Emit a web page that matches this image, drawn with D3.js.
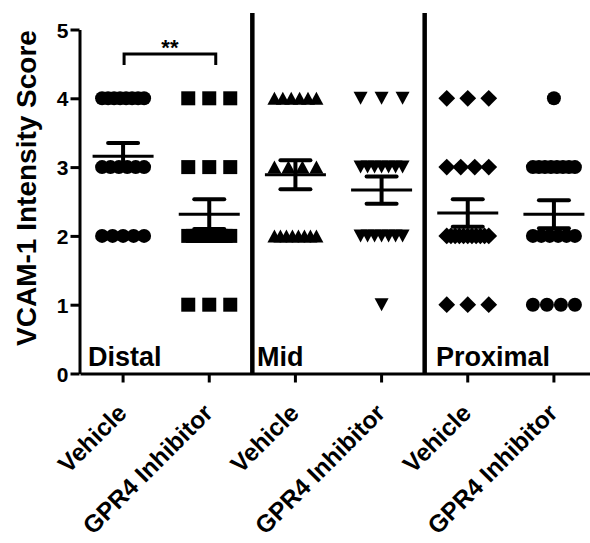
<!DOCTYPE html>
<html><head><meta charset="utf-8">
<script src="https://cdn.jsdelivr.net/npm/d3@7"></script>
<style>
body{margin:0;background:#fff}
text{font-family:"Liberation Sans",Arial,sans-serif;font-weight:bold;fill:#000}
</style>
</head><body><svg id="c" width="590" height="543"></svg>
<script>
// ---------- data ----------
const groups = ["Distal", "Mid", "Proximal"];
const treatments = ["Vehicle", "GPR4 Inhibitor"];
const yTicks = [0, 1, 2, 3, 4, 5];
const yTitle = "VCAM-1 Intensity Score";
const sigLabel = "**";

// individual scores per series
const distalVehicle = [4,4,4,4,4,4,4,4, 3,3,3,3,3,3, 2,2,2,2,2];
const distalGPR4    = [4,4,4, 3,3,3, 2,2,2,2,2,2,2,2,2,2, 1,1,1];
const midVehicle    = [4,4,4,4,4,4, 3,3,3,3, 2,2,2,2,2,2,2,2];
const midGPR4       = [4,4,4, 3,3,3,3,3,3,3, 2,2,2,2,2,2,2, 1];
const proxVehicle   = [4,4,4, 3,3,3,3, 2,2,2,2,2,2,2,2,2,2,2, 1,1,1];
const proxGPR4      = [4, 3,3,3,3,3,3,3,3, 2,2,2,2,2,2, 1,1,1,1];

const seriesValues = [distalVehicle, distalGPR4, midVehicle, midGPR4, proxVehicle, proxGPR4];
const seriesSymbols = ["circle", "square", "triUp", "triDown", "diamond", "circle"];

// ---------- build ----------
const series = [];
groups.forEach((g, gi) => treatments.forEach((t, ti) => {
  const i = gi * 2 + ti;
  series.push({key: g + "|" + t, group: g, treatment: t, values: seriesValues[i], symbol: seriesSymbols[i]});
}));

const svg = d3.select("#c");
const x = d3.scaleBand().domain(series.map(d => d.key)).range([80, 597]).padding(0);
const y = d3.scaleLinear().domain([0, 5]).range([373.5, 29.5]);
const cx = k => x(k) + x.bandwidth() / 2;

// custom symbol types
const triUp = {draw(ctx, size){ const w = 14, h = 13; ctx.moveTo(0, -h/2); ctx.lineTo(w/2, h/2); ctx.lineTo(-w/2, h/2); ctx.closePath(); }};
const triDown = {draw(ctx, size){ const w = 14, h = 13; ctx.moveTo(0, h/2); ctx.lineTo(w/2, -h/2); ctx.lineTo(-w/2, -h/2); ctx.closePath(); }};
const diamond = {draw(ctx, size){ const r = 8.4; ctx.moveTo(0, -r); ctx.lineTo(r, 0); ctx.lineTo(0, r); ctx.lineTo(-r, 0); ctx.closePath(); }};
const symbolPath = {
  circle: d3.symbol().type(d3.symbolCircle).size(Math.PI * 7 * 7)(),
  square: d3.symbol().type(d3.symbolSquare).size(14 * 14)(),
  triUp: d3.symbol().type(triUp)(),
  triDown: d3.symbol().type(triDown)(),
  diamond: d3.symbol().type(diamond)()
};

// axes
const yAxis = svg.append("g").attr("transform", "translate(79.5,0)")
  .call(d3.axisLeft(y).tickValues(yTicks).tickSize(9).tickSizeOuter(0).tickPadding(2).tickFormat(d3.format("d")));
yAxis.select(".domain").attr("stroke", "#000").attr("stroke-width", 3);
yAxis.selectAll(".tick line").attr("stroke", "#000").attr("stroke-width", 3);
yAxis.selectAll(".tick text").style("font-size", "21px").attr("dy", "0.36em");

const xAxis = svg.append("g").attr("transform", "translate(0,373.5)")
  .call(d3.axisBottom(x).tickSize(9).tickSizeOuter(0).tickFormat(k => k.split("|")[1]));
xAxis.select(".domain").attr("stroke", "#000").attr("stroke-width", 3);
xAxis.selectAll(".tick line").attr("stroke", "#000").attr("stroke-width", 3);
xAxis.selectAll(".tick text").style("font-size", "24.5px")
  .attr("text-anchor", "end").attr("x", 0).attr("y", 0).attr("dy", 0)
  .attr("transform", "translate(5,41) rotate(-45)");

// y title
svg.append("text").attr("transform", `translate(36,${(y(0)+y(5))/2 - 13.5}) rotate(-90)`)
  .attr("text-anchor", "middle").style("font-size", "28px").text(yTitle);

// separators between groups
[2, 4].forEach(i => {
  svg.append("line").attr("x1", x(series[i].key)).attr("x2", x(series[i].key))
    .attr("y1", y(0)).attr("y2", y(5.24)).attr("stroke", "#000").attr("stroke-width", 4.5);
});

// group labels
const groupLabelX = [88, 257, 436];
groups.forEach((g, gi) => {
  svg.append("text").attr("x", groupLabelX[gi]).attr("y", 366).style("font-size", "27px").text(g);
});

// points
series.forEach(s => {
  const counts = d3.rollup(s.values, v => v.length, v => v);
  const pts = [];
  counts.forEach((k, v) => {
    const step = k > 1 ? Math.min(21, 42 / (k - 1)) : 0;
    for (let j = 0; j < k; j++) pts.push({v, off: (j - (k - 1) / 2) * step});
  });
  svg.append("g").selectAll("path").data(pts).join("path")
    .attr("d", symbolPath[s.symbol])
    .attr("transform", p => `translate(${cx(s.key) + p.off},${y(p.v)})`)
    .attr("fill", "#000");
});

// mean and SEM
series.forEach(s => {
  const m = d3.mean(s.values);
  const sem = d3.deviation(s.values) / Math.sqrt(s.values.length);
  const c = cx(s.key);
  const g = svg.append("g").attr("stroke", "#000");
  g.append("line").attr("x1", c).attr("x2", c).attr("y1", y(m - sem)).attr("y2", y(m + sem)).attr("stroke-width", 4);
  [m - sem, m + sem].forEach(v => g.append("line").attr("x1", c - 15).attr("x2", c + 15)
    .attr("y1", y(v)).attr("y2", y(v)).attr("stroke-width", 4).attr("stroke-linecap", "round"));
  g.append("line").attr("x1", c - 30.5).attr("x2", c + 30.5).attr("y1", y(m)).attr("y2", y(m)).attr("stroke-width", 3);
});

// significance bracket
const bx1 = cx(series[0].key) + 1, bx2 = cx(series[1].key) + 6.5;
svg.append("path")
  .attr("d", `M${bx1},${y(4.485)}V${y(4.644)}H${bx2}V${y(4.485)}`)
  .attr("fill", "none").attr("stroke", "#000").attr("stroke-width", 3);
svg.append("text").attr("x", (bx1 + bx2) / 2).attr("y", y(4.644) + 1)
  .attr("text-anchor", "middle").style("font-size", "22px").text(sigLabel);
</script>
</body></html>
